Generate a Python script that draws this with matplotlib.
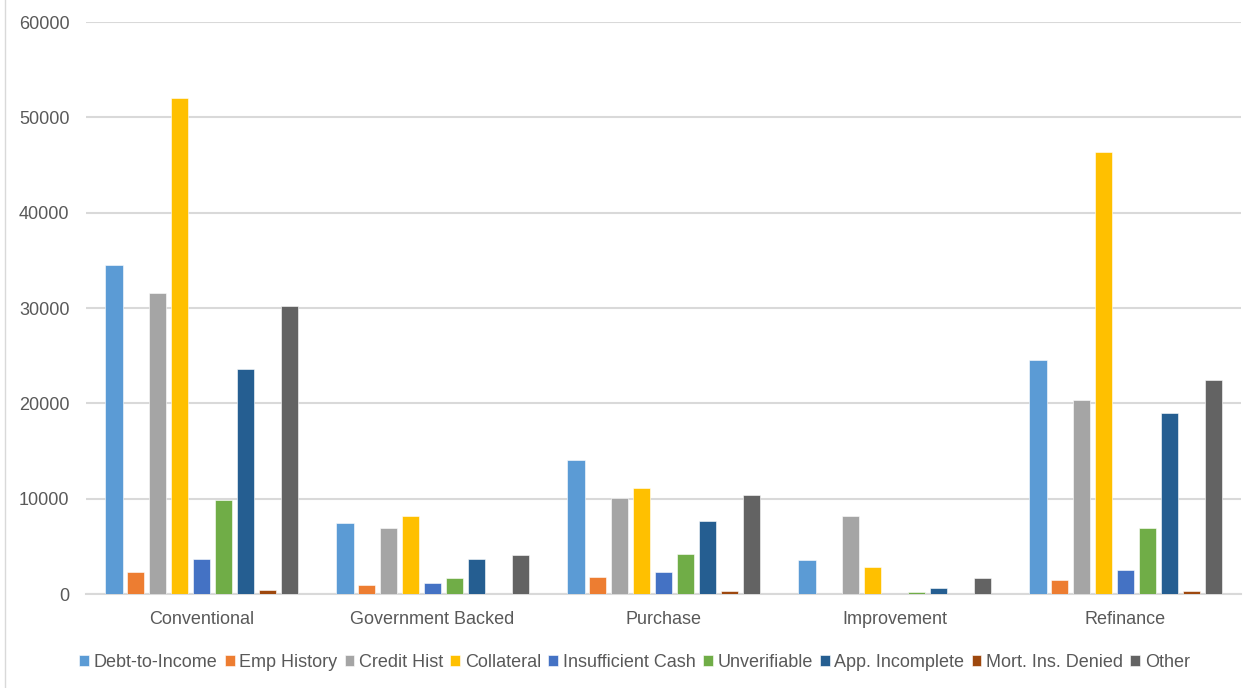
import numpy as np
import matplotlib.pyplot as plt
from matplotlib.patches import Rectangle

categories = ['Conventional', 'Government Backed', 'Purchase', 'Improvement', 'Refinance']

reasons = ['Debt-to-Income', 'Emp History', 'Credit Hist', 'Collateral', 'Insufficient Cash',
           'Unverifiable', 'App. Incomplete', 'Mort. Ins. Denied', 'Other']

# denial counts per reason, one value per loan category
debt_to_income = [34500, 7480, 14060, 3570, 24500]
emp_history = [2300, 950, 1820, 0, 1470]
credit_hist = [31550, 6960, 10040, 8180, 20370]
collateral = [52000, 8180, 11090, 2870, 46400]
insufficient_cash = [3700, 1120, 2340, 0, 2520]
unverifiable = [9860, 1650, 4230, 250, 6920]
app_incomplete = [23650, 3670, 7690, 660, 19030]
mort_ins_denied = [400, 0, 300, 0, 300]
other = [30180, 4060, 10420, 1680, 22440]

series = [debt_to_income, emp_history, credit_hist, collateral, insufficient_cash,
          unverifiable, app_incomplete, mort_ins_denied, other]
colors = ['#5B9BD5', '#ED7D31', '#A5A5A5', '#FFC000', '#4472C4',
          '#70AD47', '#255E91', '#9E480E', '#636363']

plt.rcParams['font.family'] = ['Liberation Sans', 'DejaVu Sans']
text_color = '#595959'

fig = plt.figure(figsize=(12.49, 6.88), dpi=100)
ax = fig.add_axes([0.0689, 0.1366, 0.9247, 0.8314])

x = np.arange(len(categories))
pitch = 0.095
width = 0.076
for i, (vals, name, c) in enumerate(zip(series, reasons, colors)):
    offs = (i - (len(series) - 1) / 2) * pitch
    ax.bar(x + offs, vals, width, color=c, label=name, zorder=3,
           edgecolor='white', linewidth=0.4)

ax.set_xlim(-0.5, len(categories) - 0.5)
ax.set_ylim(0, 60000)
ax.set_yticks(np.arange(0, 60001, 10000))
ax.yaxis.grid(True, color='#D9D9D9', linewidth=1.5, zorder=0)
ax.set_axisbelow(True)
for s in ['top', 'right', 'left']:
    ax.spines[s].set_visible(False)
ax.spines['bottom'].set_color('#D9D9D9')
ax.spines['bottom'].set_linewidth(1.5)
ax.tick_params(axis='y', length=0, pad=12, labelsize=13, labelcolor=text_color)
ax.tick_params(axis='x', length=0, pad=12, labelsize=13, labelcolor=text_color)
ax.set_xticks(x)
ax.set_xticklabels(categories)

leg = fig.legend(loc='center', bbox_to_anchor=(0.508, 0.037), ncol=9, frameon=False,
                 fontsize=13, handlelength=0.55, handleheight=0.55, handletextpad=0.25,
                 columnspacing=0.4, labelcolor=text_color)

# chart frame edge on the left
fig.add_artist(Rectangle((0.004, -0.01), 1.2, 1.02, transform=fig.transFigure,
                         fill=False, edgecolor='#D9D9D9', linewidth=1))

fig.savefig('out.png', dpi=100, facecolor='white')
